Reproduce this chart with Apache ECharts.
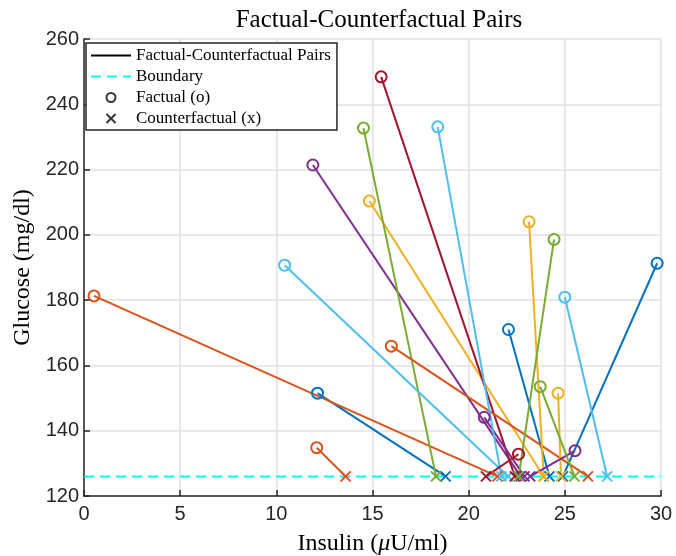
<!DOCTYPE html>
<html>
<head>
<meta charset="utf-8">
<script src="https://cdn.jsdelivr.net/npm/echarts@6/dist/echarts.min.js"></script>
<style>
html, body { margin: 0; padding: 0; background: #fff; }
#main { width: 676px; height: 556px; }
</style>
</head>
<body>
<div id="main"></div>
<script>
// factual points (o) and where each lands on the boundary (x)
var factualX = [12.14, 0.52, 14.84, 11.9, 14.53, 10.43, 15.45, 22.07, 15.98, 23.14, 20.81, 24.44, 18.39, 22.59, 29.8, 12.1, 24.65, 25.53, 23.72, 25.0];
var factualY = [151.5, 181.3, 210.35, 221.4, 232.7, 190.7, 248.4, 171.0, 165.9, 204.0, 144.1, 198.6, 233.1, 132.8, 191.3, 134.8, 151.5, 133.9, 153.5, 180.9];
var counterX = [18.8, 21.5, 23.9, 22.7, 18.3, 22.05, 22.4, 24.2, 26.2, 23.9, 22.9, 22.6, 21.7, 20.9, 24.9, 13.6, 24.8, 23.2, 25.5, 27.2];
var boundaryY = 126;
var boundaryX = [0, 30];

var xTicks = [0, 30, 5];      // min, max, step
var yTicks = [120, 260, 20];

var palette = ['#0072BD', '#D95319', '#EDB120', '#7E2F8E', '#77AC30', '#4DBEEE', '#A2142F'];
var crossPath = 'path://M0,0L10,10M10,0L0,10';
var serif = 'Liberation Serif';

var myChart = echarts.init(document.getElementById('main'));

var series = [];

// boundary line
series.push({
    name: 'Boundary',
    type: 'line',
    symbol: 'none',
    silent: true,
    z: 2,
    data: boundaryX.map(function (x) { return [x, boundaryY]; }),
    lineStyle: { color: '#00FFFF', width: 2, type: [10, 6] },
    itemStyle: { color: '#00FFFF' }
});

// one line per pair
for (var i = 0; i < factualX.length; i++) {
    var c = palette[i % palette.length];
    series.push({
        type: 'line',
        silent: true,
        z: 3,
        showAllSymbol: true,
        data: [
            { value: [factualX[i], factualY[i]], symbol: 'circle', symbolSize: 11 },
            { value: [counterX[i], boundaryY], symbol: crossPath, symbolSize: 10 }
        ],
        lineStyle: { color: c, width: 2 },
        itemStyle: { color: 'rgba(0,0,0,0)', borderColor: c, borderWidth: 2 }
    });
}

// legend-only series
series.push({
    name: 'Factual-Counterfactual Pairs',
    type: 'line',
    symbol: 'none',
    data: [],
    lineStyle: { color: '#000', width: 2 },
    itemStyle: { color: '#000' }
});
series.push({
    name: 'Factual (o)',
    type: 'scatter',
    symbol: 'circle',
    data: [],
    itemStyle: { color: 'rgba(0,0,0,0)', borderColor: '#000', borderWidth: 2 }
});
series.push({
    name: 'Counterfactual (x)',
    type: 'scatter',
    symbol: crossPath,
    data: [],
    itemStyle: { color: '#000', borderColor: '#000', borderWidth: 2 }
});

option = {
    animation: false,
    backgroundColor: '#fff',
    title: {
        text: 'Factual-Counterfactual Pairs',
        left: 374,
        top: 3,
        textAlign: 'center',
        textStyle: { fontFamily: serif, fontSize: 25, fontWeight: 'normal', color: '#000' }
    },
    legend: {
        orient: 'vertical',
        left: 86,
        top: 43,
        padding: [4, 6, 3, 4],
        itemGap: 4,
        itemWidth: 40,
        itemHeight: 9,
        backgroundColor: '#fff',
        borderColor: '#262626',
        borderWidth: 1.5,
        borderRadius: 0,
        selectedMode: false,
        data: [
            { name: 'Factual-Counterfactual Pairs', itemStyle: { opacity: 0 } },
            { name: 'Boundary', itemStyle: { opacity: 0 } },
            'Factual (o)',
            'Counterfactual (x)'
        ],
        textStyle: { fontFamily: serif, fontSize: 17, color: '#000' }
    },
    grid: { left: 84, right: 15, top: 39, bottom: 60, containLabel: false, outerBoundsMode: 'none' },
    xAxis: {
        type: 'value',
        min: xTicks[0],
        max: xTicks[1],
        interval: xTicks[2],
        name: 'Insulin ({i|μ}U/ml)',
        nameLocation: 'middle',
        nameGap: 36,
        nameTextStyle: {
            fontFamily: serif, fontSize: 24, color: '#000',
            rich: { i: { fontFamily: serif, fontSize: 24, fontStyle: 'italic', color: '#000' } }
        },
        axisLine: { show: true, onZero: false, lineStyle: { color: '#262626', width: 1.5 } },
        axisTick: { show: true, inside: true, length: 6, lineStyle: { color: '#262626', width: 1.5 } },
        axisLabel: { fontFamily: 'Liberation Sans', fontSize: 20, color: '#262626', margin: 8 },
        splitLine: { show: true, lineStyle: { color: '#e0e0e0', width: 1.5 } }
    },
    yAxis: {
        type: 'value',
        min: yTicks[0],
        max: yTicks[1],
        interval: yTicks[2],
        name: 'Glucose (mg/dl)',
        nameLocation: 'middle',
        nameRotate: 90,
        nameGap: 49,
        nameTextStyle: { fontFamily: serif, fontSize: 24, color: '#000' },
        axisLine: { show: true, onZero: false, lineStyle: { color: '#262626', width: 1.5 } },
        axisTick: { show: true, inside: true, length: 6, lineStyle: { color: '#262626', width: 1.5 } },
        axisLabel: { fontFamily: 'Liberation Sans', fontSize: 20, color: '#262626', margin: 5 },
        splitLine: { show: true, lineStyle: { color: '#e0e0e0', width: 1.5 } }
    },
    series: series
};

myChart.setOption(option);
</script>
</body>
</html>
